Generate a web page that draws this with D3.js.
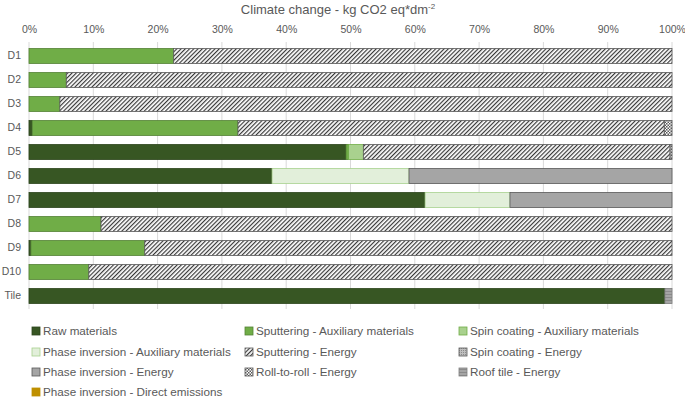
<!DOCTYPE html>
<html>
<head>
<meta charset="utf-8">
<script src="https://cdn.jsdelivr.net/npm/d3@7"></script>
<style>
  body { margin: 0; background: #fff; }
  svg text { font-family: "Liberation Sans", "DejaVu Sans", sans-serif; fill: #595959; }
</style>
</head>
<body>
<div id="chart"></div>
<script>
// categories (top to bottom)
const categories = ["D1", "D2", "D3", "D4", "D5", "D6", "D7", "D8", "D9", "D10", "Tile"];

// share of each contribution, in %
const rawMaterials       = [0,    0,    0,    0.5,  49.3, 37.8, 61.6, 0,    0.3,  0,    98.9];
const sputteringAux      = [22.5, 5.8,  4.8,  32.0, 0.4,  0,    0,    11.2, 17.7, 9.3,  0];
const spinCoatingAux     = [0,    0,    0,    0,    2.3,  0,    0,    0,    0,    0,    0];
const phaseInversionAux  = [0,    0,    0,    0,    0,    21.3, 13.2, 0,    0,    0,    0];
const sputteringEnergy   = [77.5, 94.2, 95.2, 66.3, 47.7, 0,    0,    88.8, 82.0, 90.7, 0];
const spinCoatingEnergy  = [0,    0,    0,    0,    0,    0,    0,    0,    0,    0,    0];
const phaseInvEnergy     = [0,    0,    0,    0,    0,    40.9, 25.2, 0,    0,    0,    0];
const rollToRollEnergy   = [0,    0,    0,    1.2,  0.3,  0,    0,    0,    0,    0,    0];
const roofTileEnergy     = [0,    0,    0,    0,    0,    0,    0,    0,    0,    0,    1.1];
const phaseInvDirect     = [0,    0,    0,    0,    0,    0,    0,    0,    0,    0,    0];

const xTicks = [0, 10, 20, 30, 40, 50, 60, 70, 80, 90, 100];

const series = [
  { key: "Raw materials", values: rawMaterials, fill: "#375623", stroke: "#2c451c" },
  { key: "Sputtering - Auxiliary materials", values: sputteringAux, fill: "#70ad47", stroke: "#548235" },
  { key: "Spin coating - Auxiliary materials", values: spinCoatingAux, fill: "#a9d18e", stroke: "#70ad47" },
  { key: "Phase inversion - Auxiliary materials", values: phaseInversionAux, fill: "#e2efda", stroke: "#a9d18e" },
  { key: "Sputtering - Energy", values: sputteringEnergy, fill: "url(#hatch)", stroke: "#595959" },
  { key: "Spin coating - Energy", values: spinCoatingEnergy, fill: "url(#dots)", stroke: "#595959" },
  { key: "Phase inversion - Energy", values: phaseInvEnergy, fill: "#a5a5a5", stroke: "#595959" },
  { key: "Roll-to-roll - Energy", values: rollToRollEnergy, fill: "url(#checker)", stroke: "#595959" },
  { key: "Roof tile - Energy", values: roofTileEnergy, fill: "url(#stripes)", stroke: "#7f7f7f" },
  { key: "Phase inversion - Direct emissions", values: phaseInvDirect, fill: "#bf9000", stroke: "#bf9000" },
];

const width = 685, height = 398;
const x0 = 29, x1 = 672;

const svg = d3.select('#chart')
  .append('svg')
  .attr('width', width)
  .attr('height', height);

// patterns
const defs = svg.append('defs');

defs.append('pattern')
  .attr('id', 'hatch')
  .attr('patternUnits', 'userSpaceOnUse')
  .attr('width', 3).attr('height', 3)
  .attr('patternTransform', 'rotate(45)')
  .call(p => {
    p.append('rect').attr('width', 3).attr('height', 3).attr('fill', '#fff');
    p.append('line').attr('x1', 0.6).attr('x2', 0.6).attr('y1', 0).attr('y2', 3)
      .attr('stroke', '#333').attr('stroke-width', 1.15);
  });

defs.append('pattern')
  .attr('id', 'checker')
  .attr('patternUnits', 'userSpaceOnUse')
  .attr('width', 3).attr('height', 3)
  .call(p => {
    p.append('rect').attr('width', 3).attr('height', 3).attr('fill', '#fff');
    p.append('rect').attr('width', 1.5).attr('height', 1.5).attr('fill', '#595959');
    p.append('rect').attr('x', 1.5).attr('y', 1.5).attr('width', 1.5).attr('height', 1.5).attr('fill', '#595959');
  });

defs.append('pattern')
  .attr('id', 'dots')
  .attr('patternUnits', 'userSpaceOnUse')
  .attr('width', 2).attr('height', 2)
  .call(p => {
    p.append('rect').attr('width', 2).attr('height', 2).attr('fill', '#bfbfbf');
    p.append('rect').attr('width', 1).attr('height', 1).attr('fill', '#8c8c8c');
  });

defs.append('pattern')
  .attr('id', 'stripes')
  .attr('patternUnits', 'userSpaceOnUse')
  .attr('width', 3).attr('height', 3)
  .call(p => {
    p.append('rect').attr('width', 3).attr('height', 3).attr('fill', '#a5a5a5');
    p.append('rect').attr('width', 3).attr('height', 1).attr('fill', '#8a8a8a');
  });

// scales
const xScale = d3.scaleLinear()
  .domain([0, 100])
  .range([x0, x1]);

const yScale = d3.scaleBand()
  .domain(categories)
  .range([44, 308])
  .paddingInner(0.375)
  .paddingOuter(0.1875);

// title
const title = svg.append('text')
  .attr('x', 338)
  .attr('y', 14)
  .attr('text-anchor', 'middle')
  .style('font-size', '13px');
title.append('tspan').text('Climate change - kg CO2 eq*dm');
title.append('tspan').attr('dy', -5).style('font-size', '8px').text('-2');

// gridlines
svg.append('g')
  .selectAll('line')
  .data(xTicks)
  .enter()
  .append('line')
  .attr('x1', d => xScale(d))
  .attr('x2', d => xScale(d))
  .attr('y1', 42)
  .attr('y2', 309)
  .attr('stroke', '#d9d9d9')
  .attr('stroke-width', 1);

// top axis
const xAxis = d3.axisTop(xScale)
  .tickValues(xTicks)
  .tickFormat(d => d + '%')
  .tickSize(0)
  .tickPadding(0);

svg.append('g')
  .attr('transform', 'translate(0, 33)')
  .call(xAxis)
  .call(g => g.select('.domain').remove())
  .call(g => g.selectAll('text')
    .attr('dy', 0)
    .style('font-size', '10.5px')
    .style('font-family', '"Liberation Sans", sans-serif')
    .attr('fill', '#595959'));

// left axis
const yAxis = d3.axisLeft(yScale).tickSize(0).tickPadding(0);
svg.append('g')
  .attr('transform', 'translate(21, 0)')
  .call(yAxis)
  .call(g => g.select('.domain').remove())
  .call(g => g.selectAll('text')
    .style('font-size', '10.5px')
    .style('font-family', '"Liberation Sans", sans-serif')
    .attr('fill', '#595959'));

// stacked bars
const rows = categories.map((c, i) => {
  const row = { category: c };
  series.forEach(s => { row[s.key] = s.values[i]; });
  return row;
});

const stack = d3.stack().keys(series.map(s => s.key));
const stacked = stack(rows);

svg.append('g')
  .selectAll('g')
  .data(stacked)
  .enter()
  .append('g')
  .attr('fill', (d, i) => series[i].fill)
  .attr('stroke', (d, i) => series[i].stroke)
  .attr('stroke-width', 0.8)
  .selectAll('rect')
  .data(d => d.filter(p => p[1] - p[0] > 0))
  .enter()
  .append('rect')
  .attr('x', d => xScale(d[0]))
  .attr('y', d => yScale(d.data.category))
  .attr('width', d => xScale(d[1]) - xScale(d[0]))
  .attr('height', yScale.bandwidth());

// legend
const legendCols = [32, 245, 459];
const legendRows = [331, 352, 372, 392];

const legend = svg.append('g')
  .selectAll('g')
  .data(series)
  .enter()
  .append('g')
  .attr('transform', (d, i) => `translate(${legendCols[i % 3]}, ${legendRows[Math.floor(i / 3)]})`);

legend.append('rect')
  .attr('x', 0)
  .attr('y', -4)
  .attr('width', 8)
  .attr('height', 8)
  .attr('fill', d => d.fill)
  .attr('stroke', d => d.stroke)
  .attr('stroke-width', 0.8);

legend.append('text')
  .attr('x', 11)
  .attr('y', 4)
  .style('font-size', '11.7px')
  .text(d => d.key);
</script>
</body>
</html>
